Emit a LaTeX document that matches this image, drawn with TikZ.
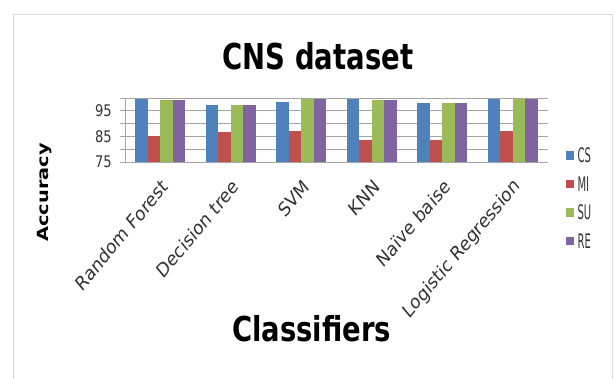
\documentclass[tikz,border=0pt]{standalone}
\usepackage{fontspec}
\setmainfont{DejaVu Sans}
\definecolor{csblue}{RGB}{79,129,189}
\definecolor{mired}{RGB}{192,80,77}
\definecolor{sugreen}{RGB}{155,187,89}
\definecolor{repurple}{RGB}{128,100,162}
\definecolor{gridgray}{RGB}{165,165,165}
\definecolor{framegray}{RGB}{217,217,217}
\tikzset{
  titletext/.style={font=\bfseries\fontsize{35.7}{36}\selectfont, inner sep=0pt, anchor=base},
  ticklabel/.style={font=\fontsize{16}{16}\selectfont, inner sep=0pt, anchor=east, xscale=0.82, text=black!80},
  catlabel/.style={font=\fontsize{19.5}{20}\selectfont, inner sep=0pt, anchor=east, cm={0.594,0.7071,-0.594,0.7071,(0,0)}, text=black!80},
  legtext/.style={font=\fontsize{20}{20}\selectfont, inner sep=0pt, anchor=west, xscale=0.5, text=black!80},
  gridline/.style={draw=gridgray, line width=0.9pt},
}
\begin{document}
\begin{tikzpicture}[x=1pt,y=1pt]
\useasboundingbox (0,0) rectangle (614,379);
\fill[white] (0,0) rectangle (614,379);
\draw[framegray, line width=1pt] (13,-1) -- (13,364) -- (612,364) -- (612,-1);
% title
\node[titletext, xscale=0.77] (title) at (318,309.7) {CNS dataset};
\node[titletext, font=\bfseries\fontsize{34.3}{35}\selectfont, xscale=0.8] (xtitle) at (311.7,37.3) {Classifiers};
\node[font=\bfseries\fontsize{19.3}{20}\selectfont, inner sep=0pt, cm={0,1,-0.8,0,(0,0)}] (ytitle) at (44.5,186.5) {Accuracy};
% grid
\foreach \v in {75,80,...,100}{
  \draw[gridline] (120,{217+(\v-75)*2.56}) -- (548,{217+(\v-75)*2.56});
}
\draw[gridline] (125,217) -- (125,281);
\foreach \v in {75,85,95}{
  \node[ticklabel] (tick\v) at (112,{217+(\v-75)*2.56}) {\v};
}
% bars
\foreach \a/\b/\c/\d [count=\i from 0] in {
  99.6/85.3/99.2/99.2,
  97.3/86.6/97.1/97.3,
  98.3/87.1/99.6/99.6,
  99.5/83.6/99.2/99.2,
  97.9/83.6/98.2/98.2,
  99.5/87.1/99.5/99.5}{
  \pgfmathsetmacro\xl{125+70.5*\i+10}
  \fill[csblue]   (\xl,217) rectangle ({\xl+12.6},{217+(\a-75)*2.56});
  \fill[mired]    ({\xl+12.6},217) rectangle ({\xl+25.2},{217+(\b-75)*2.56});
  \fill[sugreen]  ({\xl+25.2},217) rectangle ({\xl+37.8},{217+(\c-75)*2.56});
  \fill[repurple] ({\xl+37.8},217) rectangle ({\xl+50.4},{217+(\d-75)*2.56});
}
% category labels
\foreach \nm [count=\i from 0] in {Random Forest,Decision tree,SVM,KNN,Naïve baise,Logistic Regression}{
  \node[catlabel] (cat\i) at ({125+70.5*\i+35.25+5},196) {\nm};
}
% legend
\foreach \nm/\col/\yy in {CS/csblue/223.3, MI/mired/195, SU/sugreen/166.5, RE/repurple/138}{
  \fill[\col] (565.7,{\yy-4.3}) rectangle (574.3,{\yy+4.3});
  \node[legtext] (leg\nm) at (577.5,\yy) {\nm};
}
\end{tikzpicture}
\end{document}
